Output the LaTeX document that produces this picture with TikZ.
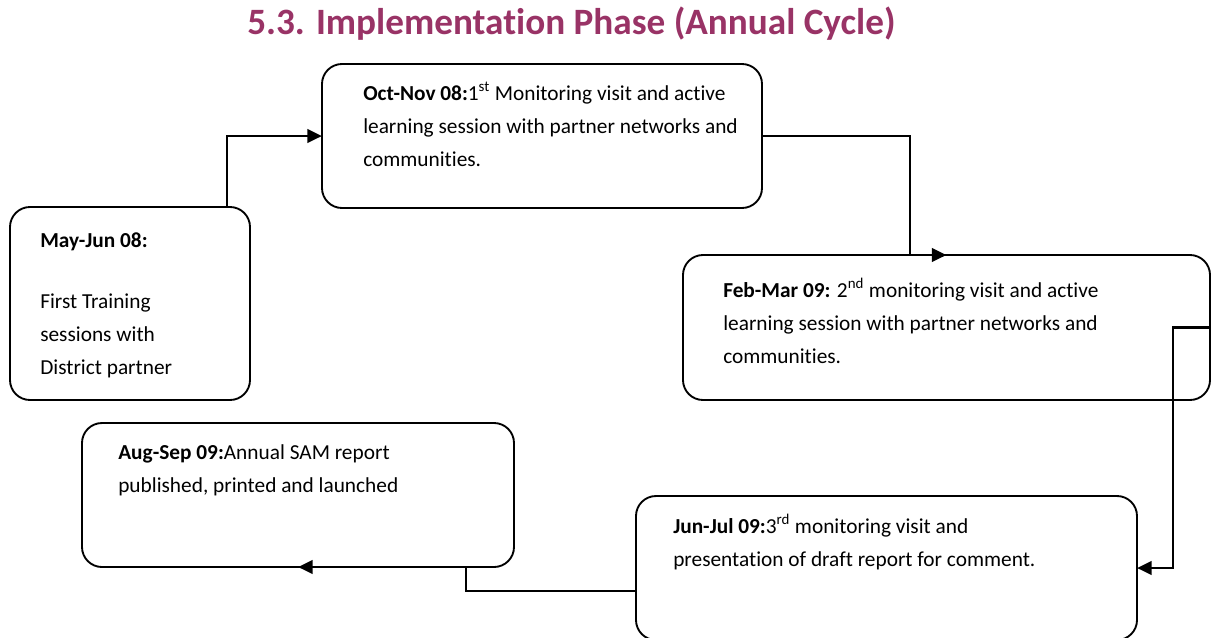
\documentclass[tikz,border=0pt]{standalone}
\usepackage{fontspec}
\setmainfont{Carlito}[Ligatures=NoCommon]
\usetikzlibrary{fit,arrows.meta}
\definecolor{plum}{RGB}{153,51,102}
\newcommand{\topstrut}{\rule{0pt}{16pt}}
\tikzset{
  stagebox/.style={draw=black, line width=1.4pt, rounded corners=15pt,
    inner sep=0pt, outer sep=0pt, fill=white},
  stagetext/.style={anchor=north west, inner sep=0pt, align=left,
    font=\fontsize{16}{25}\selectfont},
  conn/.style={line width=2.2pt, -{Triangle[length=11pt,width=10pt]}},
  heading/.style={anchor=base west, inner sep=0pt, text=plum,
    font=\fontsize{27.9}{32}\selectfont\bfseries}
}
\begin{document}
\begin{tikzpicture}[x=0.75pt, y=-0.75pt]
  \useasboundingbox (0,0) rectangle (1217,637);

  % heading
  \node[heading] (title) at (247,34) {5.3. Implementation Phase (Annual Cycle)};

  % stage boxes
  \node[stagebox, fit={(10,207) (250,400)}] (A) {};
  \node[stagebox, fit={(322,64) (762,208)}] (B) {};
  \node[stagebox, fit={(683,255) (1210,400)}] (C) {};
  \node[stagebox, fit={(636,496) (1137,640)}] (D) {};
  \node[stagebox, fit={(82,423) (514,567)}] (E) {};

  % stage texts
  \node[stagetext] (tA1) at (40,225.4) {\topstrut\textbf{May-Jun 08:}};
  \node[stagetext] (tA2) at (40,286.7) {\topstrut First Training\\ sessions with\\ District partner};
  \node[stagetext] (tB) at (363,78.7) {\topstrut\textbf{Oct-Nov 08:}1\textsuperscript{st} Monitoring visit and active\\ learning session with partner networks and\\ communities.};
  \node[stagetext] (tC) at (723,275.7) {\topstrut\textbf{Feb-Mar 09:} 2\textsuperscript{nd} monitoring visit and active\\ learning session with partner networks and\\ communities.};
  \node[stagetext] (tD) at (673,511.7) {\topstrut\textbf{Jun-Jul 09:}3\textsuperscript{rd} monitoring visit and\\ presentation of draft report for comment.};
  \node[stagetext] (tE) at (118,437.7) {\topstrut\textbf{Aug-Sep 09:}Annual SAM report\\ published, printed and launched};

  % elbow points of the connectors
  \coordinate (k1) at (227,207);
  \coordinate (k2) at (910,136);
  \coordinate (k3) at (1173,327.5);
  \coordinate (dOut) at ([yshift=-17.25pt]D.west);
  \coordinate (k5) at (466,591);

  % connectors
  \draw[conn] (A.north) -- (k1) |- (B.west);
  \draw[conn] (B.east) -- (k2) |- (C.north);
  \draw[conn] (C.east) -- (k3) |- (D.east);
  \draw[conn] (dOut) -- (k5) |- (E.south);
\end{tikzpicture}
\end{document}
